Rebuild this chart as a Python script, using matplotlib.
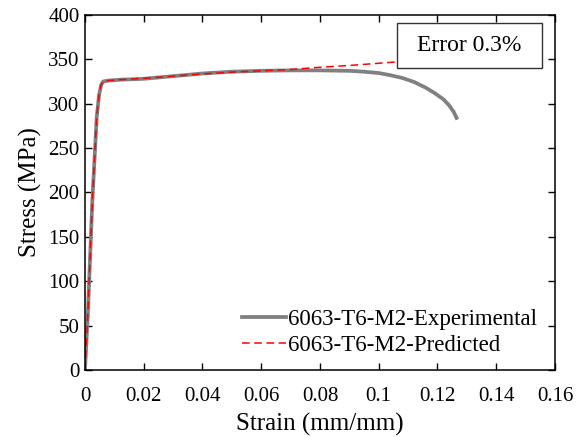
import matplotlib.pyplot as plt
from matplotlib.patches import Rectangle

# experimental curve
exp_strain = [0, 0.001, 0.0025, 0.004, 0.0048, 0.0055, 0.0062, 0.008, 0.012, 0.02,
              0.03, 0.04, 0.05, 0.06, 0.07, 0.08, 0.09, 0.095, 0.1, 0.104, 0.108,
              0.112, 0.116, 0.119, 0.122, 0.124, 0.1255, 0.1265]
exp_stress = [0, 65, 190, 285, 310, 321, 325, 326, 327, 328,
              331, 334, 336, 337, 337.5, 337.5, 337, 336, 334.5, 332, 329,
              324.5, 318, 312, 305, 298, 291, 284]

# predicted curve
pred_strain = [0, 0.001, 0.0025, 0.004, 0.0048, 0.0055, 0.0062, 0.008, 0.012, 0.02,
               0.03, 0.04, 0.05, 0.06, 0.07, 0.08, 0.09, 0.1, 0.106, 0.112]
pred_stress = [0, 65, 190, 285, 310, 321, 325, 326, 327, 328.5,
               331, 333.5, 335.5, 337, 338.5, 341, 343, 345.5, 347, 348.5]

x_ticks = [0, 0.02, 0.04, 0.06, 0.08, 0.1, 0.12, 0.14, 0.16]
x_labels = ['0', '0.02', '0.04', '0.06', '0.08', '0.1', '0.12', '0.14', '0.16']
y_ticks = [0, 50, 100, 150, 200, 250, 300, 350, 400]

plt.rcParams['font.family'] = ['Liberation Serif', 'DejaVu Serif']

fig = plt.figure(figsize=(5.86, 4.37), dpi=100)
ax = fig.add_axes([0.145, 0.153, 0.802, 0.813])

ax.plot(exp_strain, exp_stress, color='#808080', lw=2.7, label='6063-T6-M2-Experimental')
ax.plot(pred_strain, pred_stress, color='red', lw=1.1, dashes=(5, 3), label='6063-T6-M2-Predicted')

ax.set_xlim(0, 0.16)
ax.set_ylim(0, 400)
ax.set_xticks(x_ticks)
ax.set_xticklabels(x_labels)
ax.set_yticks(y_ticks)
ax.tick_params(direction='in', length=5, width=1, top=True, right=True, labelsize=15)
ax.tick_params(axis='x', pad=12)
ax.tick_params(axis='y', pad=4)
for s in ax.spines.values():
    s.set_linewidth(1.1)

ax.set_xlabel('Strain (mm/mm)', fontsize=18, labelpad=5)
ax.set_ylabel('Stress (MPa)', fontsize=18, labelpad=4)

ax.legend(loc='lower right', frameon=False, fontsize=16.5, handlelength=1.9,
          handletextpad=0.13, borderaxespad=0.3, labelspacing=0.2,
          bbox_to_anchor=(0.997, -0.005))

# error box
ax.add_patch(Rectangle((0.664, 0.851), 0.309, 0.127, transform=ax.transAxes,
                       fc='white', ec='#333333', lw=1, zorder=5))
ax.text(0.817, 0.913, 'Error 0.3%', transform=ax.transAxes, fontsize=17,
        ha='center', va='center', zorder=6)

plt.savefig('out.png', dpi=100)
